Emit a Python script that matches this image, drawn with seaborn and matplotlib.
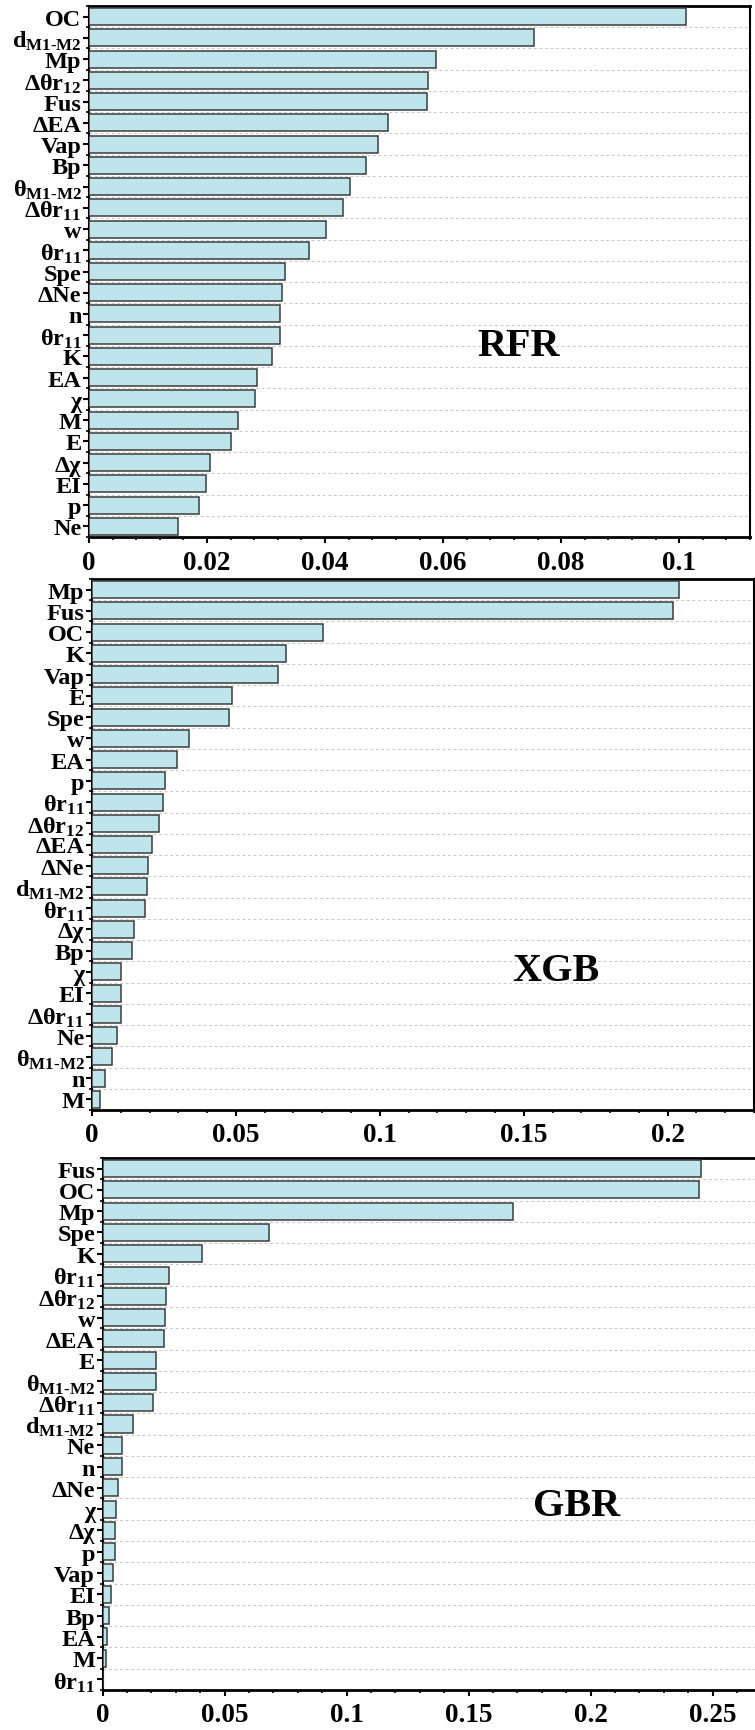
import numpy as np
import matplotlib
matplotlib.use("Agg")
import matplotlib.pyplot as plt
from matplotlib.ticker import AutoMinorLocator, FuncFormatter, MultipleLocator
import seaborn as sns

# ---- feature importances (sorted, top to bottom) ----
rfr_labels = ["OC", r"d$_{M1\text{-}M2}$", "Mp", r"Δθr$_{12}$", "Fus", "ΔEA", "Vap", "Bp",
              r"θ$_{M1\text{-}M2}$", r"Δθr$_{11}$", "w", r"θr$_{11}$", "Spe", "ΔNe", "n",
              r"θr$_{11}$", "K", "EA", "χ", "M", "E", "Δχ", "EI", "p", "Ne"]
rfr_values = [0.1012, 0.0754, 0.0588, 0.0575, 0.0572, 0.0507, 0.0490, 0.0469,
              0.0442, 0.0431, 0.0401, 0.0373, 0.0332, 0.0327, 0.0324,
              0.0324, 0.0310, 0.0284, 0.0282, 0.0252, 0.0240, 0.0205, 0.0199, 0.0187, 0.0151]

xgb_labels = ["Mp", "Fus", "OC", "K", "Vap", "E", "Spe", "w", "EA", "p", r"θr$_{11}$",
              r"Δθr$_{12}$", "ΔEA", "ΔNe", r"d$_{M1\text{-}M2}$", r"θr$_{11}$", "Δχ", "Bp",
              "χ", "EI", r"Δθr$_{11}$", "Ne", r"θ$_{M1\text{-}M2}$", "n", "M"]
xgb_values = [0.2039, 0.2019, 0.0803, 0.0674, 0.0647, 0.0487, 0.0476, 0.0336, 0.0294,
              0.0253, 0.0247, 0.0233, 0.0207, 0.0193, 0.0192, 0.0185, 0.0146, 0.0140,
              0.0102, 0.0102, 0.0100, 0.0087, 0.0071, 0.0045, 0.0029]

gbr_labels = ["Fus", "OC", "Mp", "Spe", "K", r"θr$_{11}$", r"Δθr$_{12}$", "w", "ΔEA", "E",
              r"θ$_{M1\text{-}M2}$", r"Δθr$_{11}$", r"d$_{M1\text{-}M2}$", "Ne", "n", "ΔNe",
              "χ", "Δχ", "p", "Vap", "EI", "Bp", "EA", "M", r"θr$_{11}$"]
gbr_values = [0.2452, 0.2445, 0.1680, 0.0682, 0.0408, 0.0273, 0.0258, 0.0255, 0.0251,
              0.0220, 0.0220, 0.0205, 0.0126, 0.0080, 0.0080, 0.0061, 0.0056, 0.0052,
              0.0049, 0.0043, 0.0033, 0.0027, 0.0018, 0.0015, 0.0]

model_names = ["RFR", "XGB", "GBR"]
x_max = [0.112, 0.230, 0.268]
x_major = [0.02, 0.05, 0.05]

sns.set_theme(style="white")
plt.rcParams["font.family"] = ["Liberation Serif", "DejaVu Serif"]
plt.rcParams["font.weight"] = "bold"
plt.rcParams["mathtext.fontset"] = "custom"
plt.rcParams["mathtext.rm"] = "Liberation Serif:bold"
plt.rcParams["mathtext.it"] = "Liberation Serif:bold"
plt.rcParams["mathtext.bf"] = "Liberation Serif:bold"
plt.rcParams["mathtext.default"] = "rm"

W, H = 755, 1731
fig = plt.figure(figsize=(W / 100, H / 100), dpi=100)

# axes rectangles in pixels: left, top, right, bottom
boxes = [(89, 7, 750, 538), (92, 580, 754, 1111), (102.7, 1159, 756.6, 1691)]
name_pos = [(0.65, 0.36), (0.70, 0.262), (0.725, 0.347)]

bar_face = "#bee5eb"
bar_edge = "#3c3c3c"

panels = [(rfr_labels, rfr_values), (xgb_labels, xgb_values), (gbr_labels, gbr_values)]
for i, (labels, values) in enumerate(panels):
    l, t, r, b = boxes[i]
    ax = fig.add_axes([l / W, 1 - b / H, (r - l) / W, (b - t) / H])
    n = len(labels)
    pos = np.arange(n)
    sns.barplot(x=values, y=pos, orient="h", color=bar_face, saturation=1,
                edgecolor=bar_edge, linewidth=1.1, width=0.8, ax=ax, zorder=3)
    ax.set_ylim(n - 0.5, -0.5)
    ax.set_xlim(0, x_max[i])
    ax.set_yticks(pos)
    ax.set_yticklabels(labels)
    ax.set_yticks(np.arange(n + 1) - 0.5, minor=True)
    ax.xaxis.set_major_locator(MultipleLocator(x_major[i]))
    ax.xaxis.set_minor_locator(AutoMinorLocator(5))
    ax.xaxis.set_major_formatter(FuncFormatter(lambda v, p: f"{v:g}"))
    ax.set_xlabel("")
    ax.set_ylabel("")

    ax.yaxis.grid(True, which="minor", linestyle=(0, (2.5, 2.5)), color="#c8c8c8", linewidth=0.8, zorder=0)
    ax.xaxis.grid(False)
    ax.yaxis.grid(False, which="major")

    ax.tick_params(axis="both", which="major", direction="out", length=4, width=1.5,
                   color="black", labelcolor="black")
    ax.tick_params(axis="x", which="major", labelsize=19.5)
    ax.tick_params(axis="y", which="major", labelsize=17.5)
    ax.tick_params(axis="both", which="minor", direction="out", length=2.5, width=1.2,
                   color="black")
    ax.tick_params(axis="y", which="both", left=True, pad=1.5)
    ax.tick_params(axis="x", which="both", bottom=True, pad=5)
    for lab in ax.get_xticklabels() + ax.get_yticklabels():
        lab.set_fontweight("bold")

    for side in ["left", "right"]:
        ax.spines[side].set_linewidth(1.5)
        ax.spines[side].set_color("black")
    for side in ["top", "bottom"]:
        ax.spines[side].set_linewidth(2.0)
        ax.spines[side].set_color("black")
    if i == 2:
        ax.spines["right"].set_visible(False)

    ax.text(name_pos[i][0], name_pos[i][1], model_names[i], transform=ax.transAxes,
            ha="center", va="center", fontsize=29, fontweight="bold", color="black")

fig.savefig("out.png", dpi=100)
